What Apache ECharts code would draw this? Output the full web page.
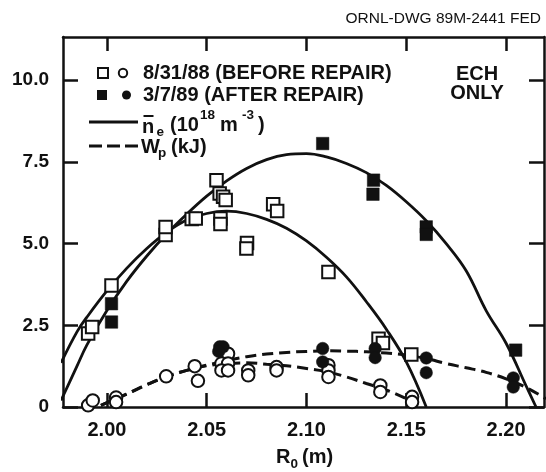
<!DOCTYPE html>
<html><head><meta charset="utf-8">
<script src="https://cdn.jsdelivr.net/npm/echarts@6/dist/echarts.min.js"></script>
<style>html,body{margin:0;padding:0;background:#fff}#c{width:546px;height:472px}</style>
</head><body><div id="c"></div>
<script>
// ---- data ----
const xTicks = [2.00, 2.05, 2.10, 2.15, 2.20];
const xTickLabels = ['2.00', '2.05', '2.10', '2.15', '2.20'];
const yTicks = [0, 2.5, 5.0, 7.5, 10.0];
const yTickLabels = ['0', '2.5', '5.0', '7.5', '10.0'];

// n_e, before repair (open squares)
const neBefore = [[1.9906,2.25],[1.9926,2.45],[2.0023,3.72],[2.0294,5.26],[2.0294,5.51],[2.0425,5.75],[2.0445,5.77],[2.0549,6.94],[2.0565,6.53],[2.0582,6.43],[2.0595,6.33],[2.0569,5.77],[2.0569,5.60],[2.0702,5.02],[2.0699,4.85],[2.0833,6.20],[2.0853,6.00],[2.1110,4.13],[2.1361,2.09],[2.1383,1.96],[2.1525,1.61]];
// n_e, after repair (filled squares)
const neAfter = [[2.0023,3.16],[2.0023,2.60],[2.1081,8.06],[2.1336,6.94],[2.1333,6.51],[2.1600,5.51],[2.1600,5.28],[2.2048,1.74]];
// W_p, before repair (open circles)
const wpBefore = [[1.9906,0.05],[1.9929,0.20],[2.0046,0.29],[2.0046,0.15],[2.0297,0.94],[2.0440,1.25],[2.0456,0.80],[2.0607,1.63],[2.0574,1.33],[2.0607,1.33],[2.0574,1.12],[2.0607,1.12],[2.0708,1.12],[2.0708,0.97],[2.0850,1.22],[2.0850,1.12],[2.1110,1.28],[2.1110,1.12],[2.1110,0.92],[2.1370,0.66],[2.1370,0.46],[2.1529,0.31],[2.1529,0.15]];
// W_p, after repair (filled circles)
const wpAfter = [[2.0565,1.84],[2.0582,1.84],[2.0560,1.70],[2.1081,1.79],[2.1081,1.38],[2.1344,1.79],[2.1344,1.51],[2.1600,1.50],[2.1600,1.05],[2.2036,0.89],[2.2036,0.61]];

// fitted curves
const neBeforeFit = [[1.977,1.35],[1.985,2.3],[1.990,2.75],[2.000,3.55],[2.010,4.25],[2.020,4.85],[2.030,5.35],[2.040,5.72],[2.050,5.92],[2.060,5.99],[2.070,5.92],[2.080,5.74],[2.090,5.47],[2.100,5.08],[2.110,4.58],[2.120,3.98],[2.130,3.22],[2.140,2.38],[2.150,1.38],[2.160,0]];
const neAfterFit = [[1.977,0.2],[1.985,1.25],[1.990,1.9],[2.000,2.95],[2.010,3.85],[2.020,4.62],[2.030,5.3],[2.040,5.9],[2.050,6.45],[2.060,6.92],[2.070,7.3],[2.080,7.57],[2.090,7.72],[2.100,7.75],[2.110,7.65],[2.120,7.45],[2.130,7.17],[2.140,6.78],[2.150,6.28],[2.160,5.7],[2.170,5.0],[2.180,4.17],[2.190,2.95],[2.200,1.95],[2.210,0.65],[2.215,0]];
const wpBeforeFit = [[1.997,0.05],[2.010,0.4],[2.020,0.68],[2.030,0.93],[2.040,1.12],[2.050,1.26],[2.060,1.33],[2.070,1.35],[2.080,1.31],[2.090,1.26],[2.100,1.18],[2.110,1.08],[2.120,0.92],[2.130,0.72],[2.140,0.52],[2.150,0.26],[2.155,0.12]];
const wpAfterFit = [[1.997,0.05],[2.010,0.4],[2.020,0.68],[2.030,0.93],[2.040,1.12],[2.050,1.28],[2.060,1.42],[2.070,1.54],[2.080,1.62],[2.090,1.67],[2.100,1.70],[2.110,1.72],[2.120,1.71],[2.130,1.69],[2.140,1.65],[2.150,1.59],[2.160,1.48],[2.170,1.33],[2.180,1.2],[2.190,1.06],[2.200,0.86],[2.210,0.6],[2.220,0.25]];

// ---- chart ----
const INK = '#111';
const FONT = '"Liberation Sans", Arial, sans-serif';
const chart = echarts.init(document.getElementById('c'), null, {renderer: 'canvas'});

function xAx(pos, labels) {
  return {
    type: 'value', position: pos, min: 1.978, max: 2.219,
    axisLine: {show: true, onZero: false, lineStyle: {color: INK, width: 2.5}},
    axisTick: {show: true, inside: true, length: 14, customValues: xTicks, lineStyle: {color: INK, width: 2.5}},
    axisLabel: {show: labels, customValues: xTicks, margin: 13,
      formatter: v => xTickLabels[xTicks.findIndex(t => Math.abs(t - v) < 1e-6)] || '',
      color: INK, fontSize: 20, fontWeight: 'bold', fontFamily: FONT},
    splitLine: {show: false}
  };
}
function yAx(pos, labels) {
  return {
    type: 'value', position: pos, min: 0, max: 11.32,
    axisLine: {show: true, onZero: false, lineStyle: {color: INK, width: 2.5}},
    axisTick: {show: true, inside: true, length: 15, customValues: yTicks, lineStyle: {color: INK, width: 2.5}},
    axisLabel: {show: labels, customValues: yTicks, margin: 14,
      formatter: v => yTickLabels[yTicks.findIndex(t => Math.abs(t - v) < 1e-6)] || '',
      color: INK, fontSize: 19, fontWeight: 'bold', fontFamily: FONT},
    splitLine: {show: false}
  };
}

function fitLine(data, dashed) {
  return {type: 'line', data: data, showSymbol: false, symbol: 'none', smooth: 0.4,
    clip: true, z: 2, silent: true,
    lineStyle: {color: INK, width: dashed ? 3 : 2.8, type: dashed ? [11, 6] : 'solid'}};
}
function pts(data, sym, filled) {
  return {type: 'scatter', data: data, symbol: sym, symbolSize: 12.5, z: 5, silent: true,
    itemStyle: {color: filled ? INK : '#fff', borderColor: INK, borderWidth: filled ? 0.5 : 2, opacity: 1}};
}

const T = (text, x, y, size, opts) => ({
  type: 'text', x: x, y: y, silent: true,
  style: {text: text, font: (opts && opts.weight || 'bold') + ' ' + size + 'px ' + FONT, fill: INK,
    align: opts && opts.align || 'left', verticalAlign: 'middle'}
});

const graphic = [
  T('ORNL-DWG 89M-2441 FED', 541, 19, 15.5, {weight: 'normal', align: 'right'}),
  // legend row 1
  {type: 'rect', shape: {x: 98, y: 68, width: 10, height: 10}, style: {fill: '#fff', stroke: INK, lineWidth: 2}},
  {type: 'circle', shape: {cx: 123, cy: 73, r: 4.2}, style: {fill: '#fff', stroke: INK, lineWidth: 2}},
  T('8/31/88 (BEFORE REPAIR)', 143, 73, 20),
  // legend row 2
  {type: 'rect', shape: {x: 97, y: 90, width: 10, height: 10}, style: {fill: INK}},
  {type: 'circle', shape: {cx: 126.5, cy: 95, r: 4.5}, style: {fill: INK}},
  T('3/7/89 (AFTER REPAIR)', 143, 95, 20),
  // legend row 3
  {type: 'line', shape: {x1: 89, y1: 122, x2: 138, y2: 122}, style: {stroke: INK, lineWidth: 3}},
  T('n', 142, 127, 20),
  {type: 'line', shape: {x1: 143.5, y1: 116, x2: 153.5, y2: 116}, style: {stroke: INK, lineWidth: 2}},
  T('e', 156.5, 132, 13.5),
  T('(10', 170, 125, 20),
  T('18', 200, 115, 13.5),
  T('m', 220, 125, 20),
  T('-3', 242, 115, 13.5),
  T(')', 258, 125, 20),
  // legend row 4
  {type: 'line', shape: {x1: 89, y1: 146, x2: 138, y2: 146}, style: {stroke: INK, lineWidth: 3, lineDash: [13, 5]}},
  T('W', 141, 147, 20),
  T('p', 158, 153, 13.5),
  T('(kJ)', 171, 147, 20),
  // annotation
  T('ECH', 477, 74, 20, {align: 'center'}),
  T('ONLY', 477, 93.5, 20, {align: 'center'}),
  // x axis title
  T('R', 276, 457, 20),
  T('0', 290.5, 464, 13.5),
  T('(m)', 302, 457, 20)
];

chart.setOption({
  animation: false,
  backgroundColor: '#fff',
  grid: {left: 63, right: 2, top: 37, bottom: 65, containLabel: false},
  xAxis: [xAx('bottom', true), xAx('top', false)],
  yAxis: [yAx('left', true), yAx('right', false)],
  series: [
    fitLine(neBeforeFit, false),
    fitLine(neAfterFit, false),
    fitLine(wpBeforeFit, true),
    fitLine(wpAfterFit, true),
    pts(neBefore, 'rect', false),
    pts(neAfter, 'rect', true),
    pts(wpBefore, 'circle', false),
    pts(wpAfter, 'circle', true)
  ],
  graphic: graphic
});
</script></body></html>
